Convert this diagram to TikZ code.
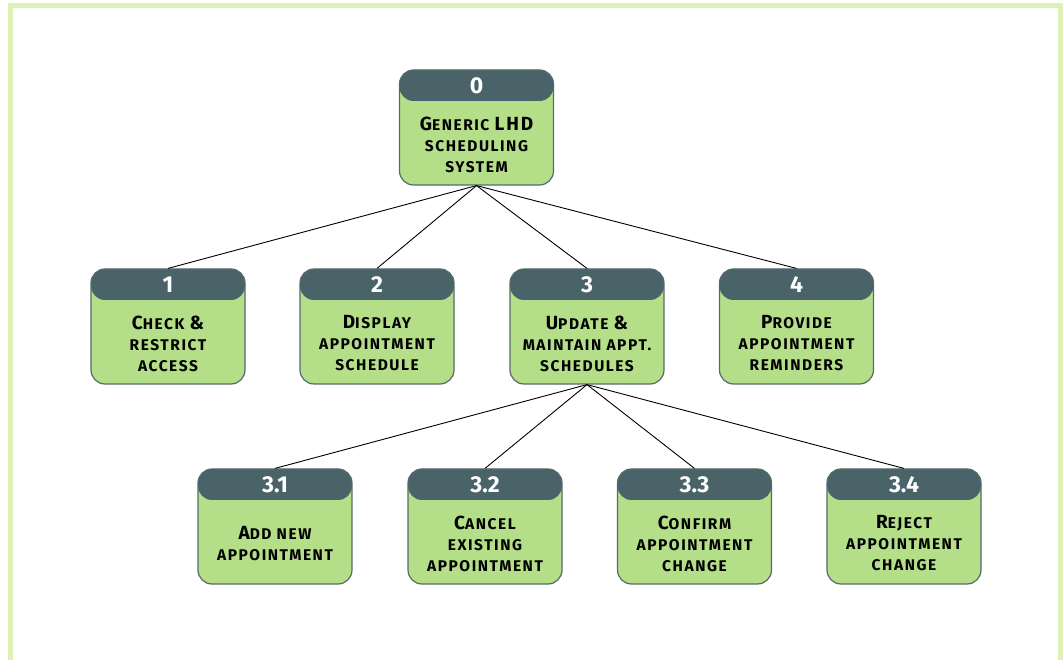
\documentclass[tikz,border=0pt]{standalone}
\usepackage{fontspec}
\setmainfont{Fira Sans}
\newfontfamily\boxfont{Fira Sans}[LetterSpace=10]
\definecolor{headcol}{HTML}{4A6368}
\definecolor{bodycol}{HTML}{B4DE88}
\definecolor{edgecol}{HTML}{56696C}
\definecolor{framecol}{HTML}{DCF2B6}
% larger capital for the small-caps look
\newcommand\Cp[1]{{\fontsize{19}{21}\selectfont #1}}
\tikzset{
  procbox/.style={draw=edgecol, line width=1.2pt, fill=bodycol, rounded corners=14pt,
    minimum width=154pt, minimum height=115pt, inner sep=0pt,
    path picture={\fill[headcol] ([yshift=2pt]path picture bounding box.north west)
      rectangle ([yshift=-31pt]path picture bounding box.north east);}},
  numtext/.style={text=white, font=\fontsize{23}{24}\selectfont\bfseries, inner sep=0pt},
  bodytext/.style={align=center, font=\boxfont\fontsize{15.5}{21}\selectfont\bfseries, inner sep=0pt},
  link/.style={draw=black, line width=0.9pt}
}
% process box: name, x, y, number, label
\newcommand\procbox[5]{%
  \node[procbox] (#1) at (#2,#3) {};
  \node[numtext] (#1-num) at ([yshift=-16pt]#1.north) {#4};
  \node[bodytext] (#1-txt) at ([yshift=-17pt]#1.center) {#5};
}
\begin{document}
\begin{tikzpicture}[x=1pt,y=1pt]
\useasboundingbox (0,0) rectangle (1063,659);
\draw[framecol, line width=5pt] (10.5,-20) -- (10.5,653.5) -- (1060.5,653.5) -- (1060.5,-20);

\procbox{p0}{476.5}{531.5}{0}{\Cp{G}ENERIC \Cp{LHD}\\SCHEDULING\\SYSTEM}

\procbox{p1}{168}{332.5}{1}{\Cp{C}HECK \Cp{\&}\\RESTRICT\\ACCESS}
\procbox{p2}{377}{332.5}{2}{\Cp{D}ISPLAY\\APPOINTMENT\\SCHEDULE}
\procbox{p3}{587}{332.5}{3}{\Cp{U}PDATE \Cp{\&}\\MAINTAIN APPT.\\SCHEDULES}
\procbox{p4}{796.5}{332.5}{4}{\Cp{P}ROVIDE\\APPOINTMENT\\REMINDERS}

\procbox{p31}{275}{132.5}{3.1}{\Cp{A}DD NEW\\APPOINTMENT}
\procbox{p32}{485}{132.5}{3.2}{\Cp{C}ANCEL\\EXISTING\\APPOINTMENT}
\procbox{p33}{694.5}{132.5}{3.3}{\Cp{C}ONFIRM\\APPOINTMENT\\CHANGE}
\procbox{p34}{904}{132.5}{3.4}{\Cp{R}EJECT\\APPOINTMENT\\CHANGE}

\foreach \c in {p1,p2,p3,p4} \draw[link] (p0.south) -- (\c.north);
\foreach \c in {p31,p32,p33,p34} \draw[link] (p3.south) -- (\c.north);
\end{tikzpicture}
\end{document}
